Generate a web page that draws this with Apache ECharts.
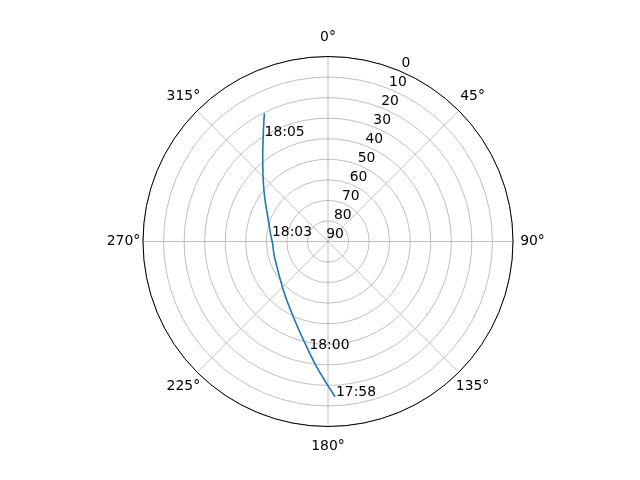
<!DOCTYPE html>
<html><head><meta charset="utf-8">
<script src="https://cdn.jsdelivr.net/npm/echarts@6/dist/echarts.min.js"></script>
<style>html,body{margin:0;padding:0;background:#fff}#c{width:640px;height:480px}</style>
</head><body><div id="c"></div>
<script>
// Track: azimuth (deg, clockwise from north) and elevation (deg)
var trackAz = [177.4, 185.2, 192.7, 204.8, 222.7, 254.2, 261.2, 268.5, 274.8, 292.4, 303.4, 312.0, 321.3, 329.1, 333.6];
var trackEl = [14.4, 28.8, 39.2, 49.7, 57.9, 62.9, 63.1, 63.0, 62.2, 58.3, 53.3, 47.7, 39.2, 28.7, 20.4];
// Time annotations
var timeLabels = ['17:58', '18:00', '18:03', '18:05'];
var timeAz = [177.4, 190.2, 274.8, 328.6];
var timeEl = [14.4, 36.4, 62.2, 29.9];
// Axis ticks
var angleTicks = [0, 45, 90, 135, 180, 225, 270, 315];
var radiusTicks = [0, 10, 20, 30, 40, 50, 60, 70, 80, 90];

var FONT = 'DejaVu Sans';
var chart = echarts.init(document.getElementById('c'));
var txt = { color: '#000', fontSize: 13.9, fontFamily: FONT, textBorderWidth: 0, opacity: 1 };
chart.setOption({
  animation: false,
  backgroundColor: '#fff',
  textStyle: { fontFamily: FONT },
  polar: [
    { center: [328, 241.5], radius: 185 },
    { center: [335, 234.8], radius: 185 },
    { center: [328, 241.5], radius: 204.5 }
  ],
  angleAxis: [
    {
      polarIndex: 0, type: 'value', min: 0, max: 360, interval: 45,
      startAngle: 90, clockwise: true,
      axisLine: { show: true, lineStyle: { color: '#000', width: 1 } },
      axisTick: { show: false }, axisLabel: { show: false },
      splitLine: { show: true, lineStyle: { color: '#b0b0b0', width: 0.8 } }
    },
    {
      polarIndex: 1, type: 'value', min: 0, max: 360, startAngle: 67.5, clockwise: true,
      show: false
    },
    {
      polarIndex: 2, type: 'value', min: 0, max: 360, startAngle: 90, clockwise: true,
      show: false
    }
  ],
  radiusAxis: [
    {
      polarIndex: 0, type: 'value', min: 0, max: 90, interval: 10, inverse: true,
      axisLine: { show: false }, axisTick: { show: false }, axisLabel: { show: false },
      splitLine: { show: true, lineStyle: { color: '#b0b0b0', width: 0.8 } }
    },
    {
      polarIndex: 1, type: 'value', min: 0, max: 90, interval: 10, inverse: true,
      axisLine: { show: false }, axisTick: { show: false }, splitLine: { show: false },
      axisLabel: Object.assign({
        show: true, margin: 0, align: 'center', verticalAlign: 'middle',
        formatter: function (v) { return radiusTicks.indexOf(v) >= 0 ? String(v) : ''; }
      }, txt)
    },
    {
      polarIndex: 2, type: 'value', min: 0, max: 1, show: false
    }
  ],
  series: [
    {
      type: 'line', coordinateSystem: 'polar', polarIndex: 0,
      data: trackAz.map(function (a, i) { return [trackEl[i], a]; }),
      showSymbol: false, symbol: 'none', smooth: 0.3,
      lineStyle: { color: '#1f77b4', width: 1.6 }
    },
    {
      type: 'scatter', coordinateSystem: 'polar', polarIndex: 0,
      data: timeAz.map(function (a, i) { return { value: [timeEl[i], a], name: timeLabels[i] }; }),
      symbolSize: 0.1, itemStyle: { color: '#000' },
      label: Object.assign({
        show: true, position: [0, 0], align: 'left', verticalAlign: 'bottom',
        offset: [1, 3],
        formatter: function (p) { return p.name; }
      }, txt)
    },
    {
      type: 'scatter', coordinateSystem: 'polar', polarIndex: 2,
      data: angleTicks.map(function (a) { return { value: [1, a], name: a + '°' }; }),
      symbolSize: 0.1, itemStyle: { color: '#000' },
      label: Object.assign({
        show: true, position: [0, 0], align: 'center', verticalAlign: 'middle',
        formatter: function (p) { return p.name; }
      }, txt)
    }
  ]
});
</script></body></html>
